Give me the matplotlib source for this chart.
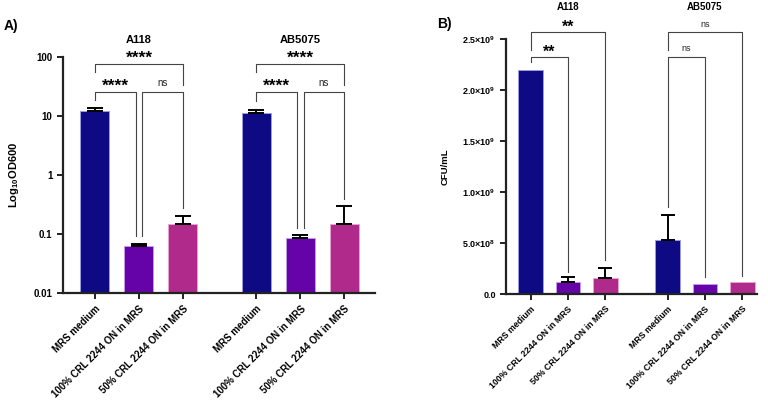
import matplotlib.pyplot as plt
import matplotlib.transforms as mtransforms

plt.rcParams['font.family'] = ['Liberation Sans', 'DejaVu Sans']
plt.rcParams['mathtext.fontset'] = 'custom'
plt.rcParams['mathtext.rm'] = 'Liberation Sans'
plt.rcParams['mathtext.bf'] = 'Liberation Sans:bold'

strains = ['A118', 'AB5075']
conditions = ['MRS medium', '100% CRL 2244 ON in MRS', '50% CRL 2244 ON in MRS']

# panel A: log10 OD600 (mean, upper SD)
od_mean = [12.2, 0.062, 0.147, 11.1, 0.087, 0.147]
od_err = [1.4, 0.007, 0.057, 1.5, 0.010, 0.153]

# panel B: CFU/mL (mean, upper SD)
cfu_mean = [2.2e9, 0.115e9, 0.16e9, 0.526e9, 0.095e9, 0.115e9]
cfu_err = [0, 0.052e9, 0.095e9, 0.244e9, 0, 0]

# comparisons: (x1, x2, bracket y, left leg end, right leg end, label)
od_tests = [
    (0, 0.93, 25.5, 18.7, 0.0925, '****'),
    (1.07, 2, 25.5, 0.0925, 0.276, 'ns'),
    (0, 2, 76, 55.7, 33.5, '****'),
    (3.67, 4.6, 25.5, 18.0, 0.128, '****'),
    (4.74, 5.67, 25.5, 0.128, 0.39, 'ns'),
    (3.67, 5.67, 76, 55.7, 33.5, '****'),
]
cfu_tests = [
    (0, 1, 2.326e9, 2.27e9, 0.22e9, '**'),
    (0, 2, 2.566e9, 2.39e9, 0.333e9, '**'),
    (3.67, 4.67, 2.326e9, 0.85e9, 0.167e9, 'ns'),
    (3.67, 5.67, 2.566e9, 2.39e9, 0.176e9, 'ns'),
]

x = [0, 1, 2, 3.67, 4.67, 5.67]
colors = ['#0d0a84', '#6603a8', '#b02a8c'] * 2
edges = ['#9a9ae6', '#c29ae8', '#e7a3d2'] * 2
line_c = '#444444'


def draw_bars(ax, means, errs, bottom, capsize):
    ax.bar(x, [m - bottom for m in means], bottom=bottom, width=0.66, color=colors,
           edgecolor=edges, linewidth=0.7, zorder=2)
    for xi, m, e in zip(x, means, errs):
        if e > 0:
            ax.errorbar(xi, m, yerr=[[0], [e]], fmt='none', ecolor='black',
                        elinewidth=1.4, capsize=capsize, capthick=1.4, zorder=3)


def draw_tests(ax, tests, star_fs, ns_fs, star_off, ns_off):
    for x1, x2, y, e1, e2, lab in tests:
        ax.plot([x1, x1, x2, x2], [e1, y, y, e2], color=line_c, lw=0.8,
                clip_on=False, zorder=4)
        if lab == 'ns':
            ax.annotate(lab, ((x1 + x2) / 2, y), xytext=(0, ns_off), textcoords='offset points',
                        ha='center', va='baseline', fontsize=ns_fs, color='#222222',
                        annotation_clip=False)
        else:
            ax.annotate(lab, ((x1 + x2) / 2, y), xytext=(0, star_off), textcoords='offset points',
                        ha='center', va='baseline', fontsize=star_fs, fontweight='bold',
                        annotation_clip=False)


def style_axes(ax, tick_fs):
    for s in ['top', 'right']:
        ax.spines[s].set_visible(False)
    for s in ['left', 'bottom']:
        ax.spines[s].set_linewidth(1.6)
        ax.spines[s].set_color('#222222')
    ax.tick_params(axis='both', length=4, width=1.4, color='#222222')
    ax.set_xticks(x)
    ax.set_xticklabels(conditions * 2, rotation=45, ha='right', rotation_mode='anchor',
                       fontsize=tick_fs, fontweight='bold')


fig = plt.figure(figsize=(7.68, 4), dpi=100)

# ---- panel A
axA = fig.add_axes([0.082, 0.2675, 0.406, 0.59])
axA.set_yscale('log')
draw_bars(axA, od_mean, od_err, 0.01, 6)
axA.set_ylim(0.01, 100)
axA.set_xlim(-0.727, 6.36)
axA.set_yticks([0.01, 0.1, 1, 10, 100])
axA.set_yticklabels(['0.01', '0.1', '1', '10', '100'], fontsize=7, fontweight='bold')
axA.minorticks_off()
style_axes(axA, 7)
axA.set_ylabel(r'$\mathbf{Log_{10}OD600}$', fontsize=8, labelpad=9)
draw_tests(axA, od_tests, 12.5, 7, 1.2, 4.5)
trA = mtransforms.blended_transform_factory(axA.transData, axA.transAxes)
axA.annotate(strains[0], (1, 1), xycoords=trA, xytext=(0, 12), textcoords='offset points',
             ha='center', va='center', fontsize=8, fontweight='bold')
axA.annotate(strains[1], (4.67, 1), xycoords=trA, xytext=(0, 12), textcoords='offset points',
             ha='center', va='center', fontsize=8, fontweight='bold')
fig.text(0.005, 0.935, 'A)', fontsize=10, fontweight='bold', va='center')

# ---- panel B
axB = fig.add_axes([0.659, 0.265, 0.327, 0.6375])
draw_bars(axB, cfu_mean, cfu_err, 0, 5)
axB.set_ylim(0, 2.5e9)
axB.set_xlim(-0.657, 6.07)
bt = [0, 0.5e9, 1.0e9, 1.5e9, 2.0e9, 2.5e9]
axB.set_yticks(bt)
axB.set_yticklabels(['0.0'] + [r'$\mathbf{%.1f{\times}10^{%d}}$' % (v / 10 ** (len(str(int(v))) - 1),
                                                                   len(str(int(v))) - 1) for v in bt[1:]],
                    fontsize=6.5, fontweight='bold')
style_axes(axB, 6.3)
axB.set_ylabel('CFU/mL', fontsize=6.8, fontweight='bold', labelpad=9)
draw_tests(axB, cfu_tests, 11.5, 6.5, 0.3, 4)
trB = mtransforms.blended_transform_factory(axB.transData, axB.transAxes)
axB.annotate(strains[0], (1, 1), xycoords=trB, xytext=(0, 23), textcoords='offset points',
             ha='center', va='center', fontsize=7, fontweight='bold')
axB.annotate(strains[1], (4.67, 1), xycoords=trB, xytext=(0, 23), textcoords='offset points',
             ha='center', va='center', fontsize=7, fontweight='bold')
fig.text(0.569, 0.94, 'B)', fontsize=10, fontweight='bold', va='center')

fig.savefig('out.png', dpi=100)
